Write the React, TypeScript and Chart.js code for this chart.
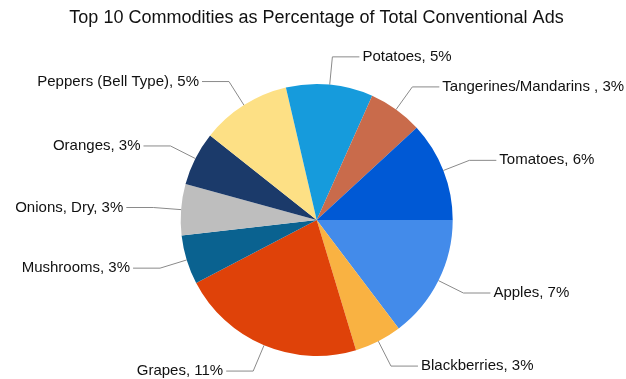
import React, { useEffect, useRef } from "react";
import { Chart, registerables } from "chart.js";

Chart.register(...registerables);

const titleText = "Top 10 Commodities as Percentage of Total Conventional Ads";
const commodities = [
  "Apples",
  "Blackberries",
  "Grapes",
  "Mushrooms",
  "Onions, Dry",
  "Oranges",
  "Peppers (Bell Type)",
  "Potatoes",
  "Tangerines/Mandarins ",
  "Tomatoes",
];
const shares = [7.2, 2.76, 10.78, 2.86, 2.98, 3.14, 5.24, 5.06, 3.16, 5.81];
const sliceColors = [
  "#438BEA",
  "#F9B242",
  "#DF4209",
  "#0A6290",
  "#BEBEBE",
  "#1B3A6A",
  "#FDE085",
  "#169BDC",
  "#C96B4B",
  "#0059D5",
];

const labelPlugin = {
  id: "leaderLabels",
  afterDraw(chart: any) {
    const ctx = chart.ctx;
    const meta = chart.getDatasetMeta(0);
    ctx.save();
    // title
    ctx.fillStyle = "#111";
    ctx.font = "18px 'Liberation Sans', Arial, sans-serif";
    ctx.textAlign = "center";
    ctx.textBaseline = "middle";
    ctx.fillText(titleText, 316.5, 18);

    ctx.font = "15px 'Liberation Sans', Arial, sans-serif";
    meta.data.forEach((arc: any, i: number) => {
      const { x, y, startAngle, endAngle, outerRadius } = arc.getProps(
        ["x", "y", "startAngle", "endAngle", "outerRadius"],
        true
      );
      const mid = (startAngle + endAngle) / 2;
      const c = Math.cos(mid);
      const s = Math.sin(mid);
      const x0 = x + outerRadius * c;
      const y0 = y + outerRadius * s;
      const x1 = x + outerRadius * 1.205 * c;
      const y1 = y + outerRadius * 1.205 * s;
      const right = c >= 0;
      const x2 = x1 + (right ? 27 : -27);
      ctx.strokeStyle = "#8a8a8a";
      ctx.lineWidth = 1;
      ctx.beginPath();
      ctx.moveTo(x0, y0);
      ctx.lineTo(x1, y1);
      ctx.lineTo(x2, y1);
      ctx.stroke();
      ctx.fillStyle = "#111";
      ctx.textAlign = right ? "left" : "right";
      ctx.textBaseline = "middle";
      const txt = commodities[i] + ", " + Math.round(shares[i]) + "%";
      ctx.fillText(txt, x2 + (right ? 3 : -3), y1);
    });
    ctx.restore();
  },
};

export default function App() {
  const ref = useRef<HTMLCanvasElement | null>(null);
  useEffect(() => {
    document.body.style.margin = "0";
    const chart = new Chart(ref.current as HTMLCanvasElement, {
      type: "pie",
      data: {
        labels: commodities,
        datasets: [
          {
            data: shares,
            backgroundColor: sliceColors,
            borderWidth: 0,
          },
        ],
      },
      options: {
        responsive: false,
        animation: false,
        rotation: 90,
        layout: { padding: { top: 84, bottom: 23, left: 100, right: 92.6 } },
        plugins: {
          legend: { display: false },
          title: { display: false },
          tooltip: { enabled: false },
        },
      },
      plugins: [labelPlugin],
    });
    return () => chart.destroy();
  }, []);
  return (
    <div style={{ width: 626, height: 379, background: "#fff" }}>
      <canvas ref={ref} width={626} height={379} />
    </div>
  );
}
